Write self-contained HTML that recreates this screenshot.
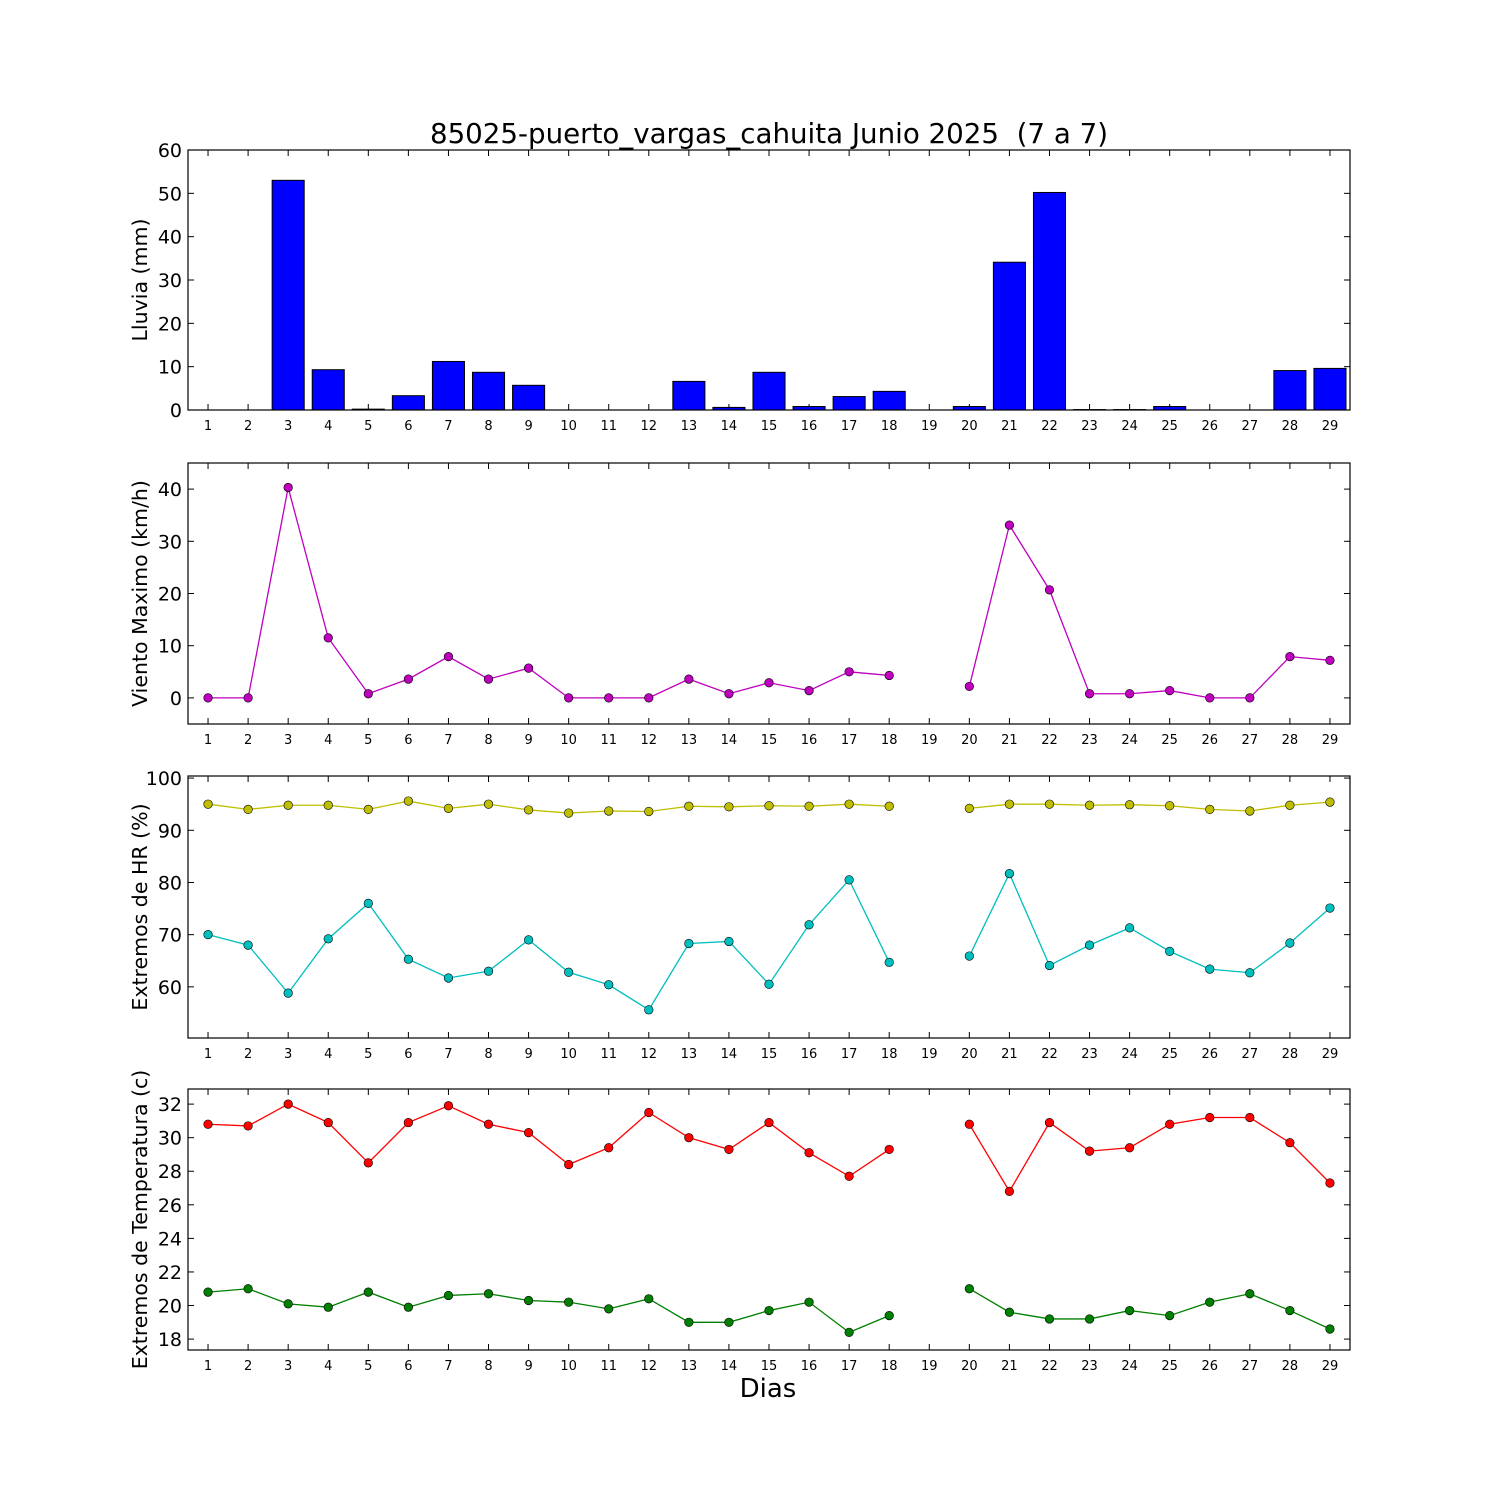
<!DOCTYPE html>
<html><head><meta charset="utf-8"><style>
body{margin:0;background:#fff}
svg{display:block;font-family:"DejaVu Sans","Liberation Sans",sans-serif}
</style></head><body>
<svg id="chart" width="1500" height="1500" xmlns="http://www.w3.org/2000/svg">
<rect width="1500" height="1500" fill="#fff"/>
<text x="769" y="143" font-size="27.7" text-anchor="middle" style="white-space:pre">85025-puerto_vargas_cahuita Junio 2025  (7 a 7)</text>
<text x="768" y="1397" font-size="26" text-anchor="middle">Dias</text>
</svg>
<script>
const days=[1,2,3,4,5,6,7,8,9,10,11,12,13,14,15,16,17,18,19,20,21,22,23,24,25,26,27,28,29];
const rain=[0,0,53,9.3,0.2,3.3,11.2,8.7,5.7,0,0,0,6.6,0.6,8.7,0.8,3.1,4.3,null,0.8,34.1,50.2,0.1,0.1,0.8,0,0,9.1,9.6];
const wind=[0,0,40.3,11.5,0.8,3.6,7.9,3.6,5.7,0,0,0,3.6,0.8,2.9,1.4,5.0,4.3,null,2.2,33.1,20.7,0.8,0.8,1.4,0,0,7.9,7.2];
const hrMax=[95,94,94.8,94.8,94,95.6,94.2,95,93.9,93.3,93.7,93.6,94.6,94.5,94.7,94.6,95,94.6,null,94.2,95,95,94.8,94.9,94.7,94,93.7,94.8,95.4];
const hrMin=[70,68,58.8,69.2,76,65.3,61.7,63,69,62.8,60.4,55.6,68.3,68.7,60.5,71.9,80.5,64.7,null,65.9,81.7,64.1,68,71.3,66.8,63.4,62.7,68.4,75.1];
const tMax=[30.8,30.7,32,30.9,28.5,30.9,31.9,30.8,30.3,28.4,29.4,31.5,30,29.3,30.9,29.1,27.7,29.3,null,30.8,26.8,30.9,29.2,29.4,30.8,31.2,31.2,29.7,27.3];
const tMin=[20.8,21,20.1,19.9,20.8,19.9,20.6,20.7,20.3,20.2,19.8,20.4,19,19,19.7,20.2,18.4,19.4,null,21,19.6,19.2,19.2,19.7,19.4,20.2,20.7,19.7,18.6];
const rainTicks=[0,10,20,30,40,50,60];
const windTicks=[0,10,20,30,40];
const hrTicks=[60,70,80,90,100];
const tTicks=[18,20,22,24,26,28,30,32];

const NS="http://www.w3.org/2000/svg";
const svg=document.getElementById('chart');
const X0=188,X1=1350;
function xs(d){return X0+(d-0.5)*(X1-X0)/29;}
function mk(tag,attrs,parent){const e=document.createElementNS(NS,tag);for(const k in attrs)e.setAttribute(k,attrs[k]);(parent||svg).appendChild(e);return e;}
const panels=[
 {name:'rain',top:150,bot:410,min:0,max:60,ticks:rainTicks,label:'Lluvia (mm)'},
 {name:'wind',top:463,bot:724,min:-5,max:45,ticks:windTicks,label:'Viento Maximo (km/h)'},
 {name:'humidity',top:776,bot:1038,min:50.2,max:100.4,ticks:hrTicks,label:'Extremos de HR (%)'},
 {name:'temperature',top:1089,bot:1350,min:17.35,max:32.9,ticks:tTicks,label:'Extremos de Temperatura (c)'}
];
panels.forEach(p=>{
 const ys=v=>p.bot-(v-p.min)/(p.max-p.min)*(p.bot-p.top);
 p.ys=ys;
 const g=mk('g',{});
 
 
 p.g=g;
 p.ticks.forEach(t=>{
  const y=ys(t);
  mk('line',{x1:X0,x2:X0+6,y1:y,y2:y,stroke:'#000'},g);
  mk('line',{x1:X1,x2:X1-6,y1:y,y2:y,stroke:'#000'},g);
  const tx=mk('text',{x:X0-6,y:y+7,'font-size':19,'text-anchor':'end'},g);
  tx.textContent=t;
  
  
 });
 days.forEach(d=>{
  const x=xs(d);
  mk('line',{x1:x,x2:x,y1:p.bot,y2:p.bot-6,stroke:'#000'},g);
  mk('line',{x1:x,x2:x,y1:p.top,y2:p.top+6,stroke:'#000'},g);
  const tx=mk('text',{x:x,y:p.bot+20,'font-size':13,'text-anchor':'middle'},g);
  tx.textContent=d;
  
  
 });
 const cy=(p.top+p.bot)/2;
 const yl=mk('text',{x:147,y:cy,'font-size':20.5,'text-anchor':'middle',transform:`rotate(-90 147 ${cy})`},g);
 yl.textContent=p.label;
 
 
});
function series(p,vals,color,nm){
 let d='',pen=false;
 vals.forEach((v,i)=>{if(v===null){pen=false;return;}d+=(pen?'L':'M')+xs(days[i])+' '+p.ys(v)+' ';pen=true;});
 const path=mk('path',{d:d,fill:'none',stroke:color,'stroke-width':1.3},p.g);
 
 
 vals.forEach((v,i)=>{if(v===null)return;
  const c=mk('circle',{cx:xs(days[i]),cy:p.ys(v),r:4.3,fill:color,stroke:'#000','stroke-width':0.6},p.g);
  
  
 });
}
const bw=0.8*(X1-X0)/29;
rain.forEach((v,i)=>{if(v===null)return;
 const p=panels[0];
 const r=mk('rect',{x:xs(days[i])-bw/2,y:p.ys(v),width:bw,height:p.ys(0)-p.ys(v),fill:'#0000ff',stroke:'#000','stroke-width':1},p.g);
 
 
});
series(panels[1],wind,'#bf00bf','wind');
series(panels[2],hrMax,'#bfbf00','humidity-max');
series(panels[2],hrMin,'#00bfbf','humidity-min');
series(panels[3],tMax,'#ff0000','temperature-max');
series(panels[3],tMin,'#008000','temperature-min');
panels.forEach(p=>{
 const f=mk('rect',{x:X0,y:p.top,width:X1-X0,height:p.bot-p.top,fill:'none',stroke:'#000','stroke-width':1.2},p.g);
 
 
});
</script>
</body></html>
